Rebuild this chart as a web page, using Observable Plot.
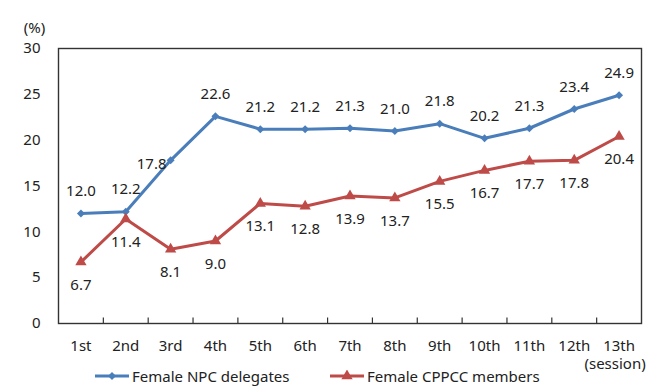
<!DOCTYPE html>
<html>
<head>
<meta charset="utf-8">
<script src="https://cdn.jsdelivr.net/npm/d3@7"></script>
<script src="https://cdn.jsdelivr.net/npm/@observablehq/plot@0.6"></script>
<style>
  html, body { margin: 0; padding: 0; background: #fff; }
  #wrap { position: relative; width: 660px; height: 389px; font-family: "Noto Sans", sans-serif; color: #222; overflow: hidden; }
  #legend { position: absolute; left: 0; top: 363px; width: 560px; height: 26px; font-size: 15px; }
  .item { position: absolute; top: 0; height: 26px; display: flex; align-items: center; }
  .item svg { display: block; margin-right: 3px; }
</style>
</head>
<body>
<div id="wrap"><div id="chart"></div><div id="legend"></div></div>
<script>
const sessions = ["1st","2nd","3rd","4th","5th","6th","7th","8th","9th","10th","11th","12th","13th"];
const npc = [12.0,12.2,17.8,22.6,21.2,21.2,21.3,21.0,21.8,20.2,21.3,23.4,24.9];
const cppcc = [6.7,11.4,8.1,9.0,13.1,12.8,13.9,13.7,15.5,16.7,17.7,17.8,20.4];
const yTicks = [0,5,10,15,20,25,30];
const seriesNames = ["Female NPC delegates","Female CPPCC members"];

const blue = "#4a7ebb", red = "#be4b48", ink = "#222";
const fs = 15;
const rows = sessions.map((s, i) => ({i: i + 1, s, npc: npc[i], cppcc: cppcc[i]}));

const chart = Plot.plot({
  width: 660,
  height: 380,
  marginTop: 48,
  marginBottom: 57,
  marginLeft: 58,
  marginRight: 19,
  style: {fontFamily: "Noto Sans, sans-serif", fontSize: fs + "px", color: ink, background: "#fff"},
  x: {type: "linear", domain: [0.5, sessions.length + 0.5]},
  y: {domain: [0, 30]},
  marks: [
    Plot.axisY(yTicks, {tickSize: 0, tickPadding: 18, label: null, fontSize: fs}),
    Plot.axisX(d3.range(1, sessions.length + 1), {tickSize: 0, tickPadding: 17, label: null, tickFormat: i => sessions[i - 1], fontSize: fs}),
    Plot.text(["(session)"], {x: sessions.length, frameAnchor: "bottom", lineAnchor: "middle", dx: -4, dy: 41, fontSize: fs, fill: ink}),
    Plot.text(["(%)"], {frameAnchor: "top-left", textAnchor: "middle", lineAnchor: "middle", dx: -24, dy: -20, fontSize: fs, fill: ink}),
    Plot.ruleX(d3.range(1.5, sessions.length, 1), {y1: 0, y2: 0.6, stroke: "#333", strokeWidth: 1.2}),
    Plot.frame({stroke: "#333", strokeWidth: 1.4}),
    Plot.line(rows, {x: "i", y: "npc", stroke: blue, strokeWidth: 3}),
    Plot.dot(rows, {x: "i", y: "npc", symbol: "diamond2", r: 3.6, fill: blue}),
    Plot.line(rows, {x: "i", y: "cppcc", stroke: red, strokeWidth: 3}),
    Plot.dot(rows, {x: "i", y: "cppcc", symbol: "triangle", r: 4.2, fill: red}),
    Plot.text(rows.filter(d => d.i !== 3), {x: "i", y: "npc", text: d => d.npc.toFixed(1), dy: -22, fontSize: fs, fill: ink}),
    Plot.text(rows.filter(d => d.i === 3), {x: "i", y: "npc", text: d => d.npc.toFixed(1), dx: -19, dy: 4, fontSize: fs, fill: ink}),
    Plot.text(rows, {x: "i", y: "cppcc", text: d => d.cppcc.toFixed(1), dy: 23, fontSize: fs, fill: ink})
  ]
});
document.getElementById("chart").appendChild(chart);

function swatch(color, symbol) {
  const w = 34, h = 12;
  const s = d3.create("svg").attr("width", w).attr("height", h);
  s.append("line").attr("x1", 0).attr("x2", w).attr("y1", h / 2).attr("y2", h / 2).attr("stroke", color).attr("stroke-width", 3);
  s.append("path").attr("transform", `translate(${w / 2},${h / 2})`)
    .attr("d", d3.symbol(symbol, symbol === d3.symbolTriangle ? 55 : 40)()).attr("fill", color);
  return s.node();
}
const legend = document.getElementById("legend");
[[seriesNames[0], blue, d3.symbolDiamond2, 95], [seriesNames[1], red, d3.symbolTriangle, 330]].forEach(([name, color, sym, left]) => {
  const item = document.createElement("div");
  item.className = "item";
  item.style.left = left + "px";
  item.appendChild(swatch(color, sym));
  const t = document.createElement("span");
  t.textContent = name;
  item.appendChild(t);
  legend.appendChild(item);
});
</script>
</body>
</html>
